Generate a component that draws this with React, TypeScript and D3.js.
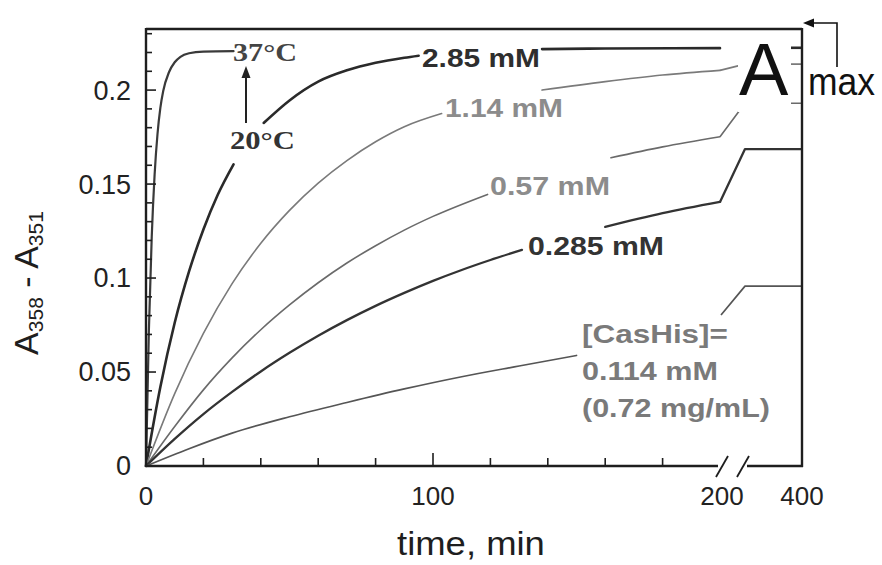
import React, { useLayoutEffect, useRef, useState } from 'react';
import * as d3 from 'd3';

const W = 882;
const H = 565;

type P = [number, number];

// [time (min), A358 - A351]
const curve37C: P[] = [
  [0, 0], [1, 0.072], [2, 0.122], [3, 0.155], [4, 0.1765], [5, 0.1905], [6, 0.1995],
  [8, 0.2095], [10, 0.2148], [12, 0.2177], [15, 0.2196], [20, 0.2205], [30.5, 0.2207],
];
const curve285mM: P[] = [
  [0, 0], [5, 0.042], [10, 0.0762], [15, 0.1035], [20, 0.1258], [25, 0.1443], [30.5, 0.1605],
  [41, 0.1825], [50, 0.1945], [60, 0.2045], [70, 0.2105], [80, 0.2145], [90, 0.2172], [95, 0.2183],
  [138, 0.2218], [160, 0.2221], [200, 0.2223], [250, 0.2225], [368, 0.2225], [400, 0.2225],
];
const curve114mM: P[] = [
  [0, 0], [10, 0.0385], [20, 0.0705], [30, 0.097], [40, 0.1185], [50, 0.136], [60, 0.1505],
  [70, 0.1625], [80, 0.1725], [90, 0.1805], [103, 0.1875], [138, 0.2], [160, 0.2045],
  [180, 0.208], [200, 0.2105], [250, 0.2138], [400, 0.2138],
];
const curve057mM: P[] = [
  [0, 0], [10, 0.021], [20, 0.0405], [30, 0.0575], [40, 0.0725], [50, 0.0857], [60, 0.0975],
  [70, 0.108], [80, 0.1172], [90, 0.1255], [100, 0.1328], [119, 0.1445], [162, 0.164],
  [180, 0.1698], [200, 0.1752], [250, 0.193], [400, 0.193],
];
const curve0285mM: P[] = [
  [0, 0], [10, 0.0144], [20, 0.0276], [30, 0.0394], [40, 0.0503], [50, 0.0602], [60, 0.0693],
  [70, 0.0776], [80, 0.0852], [90, 0.0921], [100, 0.0985], [110, 0.1043], [120, 0.1096],
  [131, 0.115], [160, 0.1272], [180, 0.1345], [200, 0.1405], [250, 0.1686], [400, 0.1686],
];
const curve0114mM: P[] = [
  [0, 0], [15, 0.0092], [30, 0.0175], [50, 0.0262], [70, 0.0338], [90, 0.041], [110, 0.0475],
  [130, 0.0532], [150, 0.0588], [202, 0.0803], [250, 0.0957], [400, 0.0957],
];

// gaps (time ranges) where lines are interrupted by labels
const gaps37C: P[] = [];
const gaps285mM: P[] = [[30.5, 41], [95, 138], [200, 368]];
const gaps114mM: P[] = [[103, 138]];
const gaps057mM: P[] = [[119, 162]];
const gaps0285mM: P[] = [[131, 160]];
const gaps0114mM: P[] = [[150, 202]];

const yMajorTicks = [0, 0.05, 0.1, 0.15, 0.2];
const yTickLabels = ['0', '0.05', '0.1', '0.15', '0.2'];
const yMinorTicks = d3.range(1, 24).map((i) => i / 100);
const xMajorTicks = [0, 100];
const xMinorTicks = [20, 40, 60, 80, 120, 140, 160, 180];
const xTickValues = [0, 100, 200, 400];
const xTickLabels = ['0', '100', '200', '400'];

const x = d3.scaleLinear().domain([0, 200, 250, 400]).range([146, 720, 745, 802]);
const y = d3.scaleLinear().domain([0, 0.2325]).range([466, 29]);

const series = [
  { pts: curve37C, gaps: gaps37C, color: '#3a3a3a', width: 2.2 },
  { pts: curve285mM, gaps: gaps285mM, color: '#2a2a2a', width: 2.6 },
  { pts: curve114mM, gaps: gaps114mM, color: '#7a7a7a', width: 1.6 },
  { pts: curve057mM, gaps: gaps057mM, color: '#6a6a6a', width: 1.6 },
  { pts: curve0285mM, gaps: gaps0285mM, color: '#333333', width: 2.3 },
  { pts: curve0114mM, gaps: gaps0114mM, color: '#555555', width: 1.7 },
];

function segments(pts: P[], gaps: P[]): P[][] {
  const segs: P[][] = [];
  let cur: P[] = [];
  let prev: P | null = null;
  for (const p of pts) {
    const inside = gaps.some(([a, b]) => p[0] > a && p[0] < b);
    if (inside) {
      if (cur.length) segs.push(cur);
      cur = [];
      prev = null;
      continue;
    }
    if (prev && gaps.some(([a, b]) => prev![0] <= a && p[0] >= b)) {
      if (cur.length) segs.push(cur);
      cur = [];
    }
    cur.push(p);
    prev = p;
  }
  if (cur.length) segs.push(cur);
  return segs.filter((s) => s.length > 1);
}

const smooth = d3.line<P>().x((d) => x(d[0])).y((d) => y(d[1])).curve(d3.curveMonotoneX);
const straight = d3.line<P>().x((d) => x(d[0])).y((d) => y(d[1]));

const SANS = 'Liberation Sans, Arial, Helvetica, sans-serif';
const SERIF = 'Liberation Serif, Times New Roman, serif';

type FitProps = {
  x: number;
  y: number;
  width: number;
  children: React.ReactNode;
  [k: string]: any;
};

function FitText({ x: tx, y: ty, width, children, ...rest }: FitProps) {
  const ref = useRef<SVGTextElement>(null);
  const [sx, setSx] = useState(1);
  useLayoutEffect(() => {
    if (ref.current) {
      const len = ref.current.getComputedTextLength();
      if (len > 0) setSx(width / len);
    }
  }, [width]);
  return (
    <text ref={ref} transform={`translate(${tx},${ty}) scale(${sx},1)`} x={0} y={0} {...rest}>
      {children}
    </text>
  );
}

export default function App() {
  const paths: React.ReactNode[] = [];
  series.forEach((s, si) => {
    const idx = s.pts.findIndex((p) => p[0] >= 200);
    const pre = idx < 0 ? s.pts : s.pts.slice(0, idx + 1);
    const post = idx < 0 ? [] : s.pts.slice(idx);
    segments(pre, s.gaps).forEach((seg, k) =>
      paths.push(
        <path key={`a${si}-${k}`} d={smooth(seg) || ''} fill="none" stroke={s.color}
          strokeWidth={s.width} strokeLinejoin="round" strokeLinecap="round" />
      )
    );
    segments(post, s.gaps).forEach((seg, k) =>
      paths.push(
        <path key={`b${si}-${k}`} d={straight(seg) || ''} fill="none" stroke={s.color}
          strokeWidth={s.width} strokeLinejoin="round" />
      )
    );
  });

  const x0 = x(0);
  const xEnd = x(400);
  const yBase = y(0);
  const yTop = y(0.2325);

  return (
    <svg width={W} height={H} style={{ display: 'block', position: 'absolute', left: 0, top: 0, background: '#fff' }}>
      <rect x={0} y={0} width={W} height={H} fill="#fff" />
      {paths}

      {/* white box behind A */}
      <rect x={738} y={30} width={53} height={82} fill="#fff" />

      {/* frame */}
      <g stroke="#1e1e1e" strokeWidth={2.4} fill="none">
        <line x1={x0} y1={yTop} x2={xEnd} y2={yTop} />
        <line x1={x0} y1={yTop - 1} x2={x0} y2={yBase + 1} />
        <line x1={xEnd} y1={yTop - 1} x2={xEnd} y2={yBase + 1} />
        <line x1={x0} y1={yBase} x2={718} y2={yBase} />
        <line x1={747} y1={yBase} x2={xEnd + 1} y2={yBase} />
      </g>
      {/* axis break marks */}
      <g stroke="#1e1e1e" strokeWidth={1.8}>
        <line x1={716} y1={477} x2={728} y2={456} />
        <line x1={737} y1={477} x2={749} y2={456} />
      </g>

      {/* ticks */}
      <g stroke="#1e1e1e" strokeWidth={1.6}>
        {yMinorTicks.map((v) => (
          <line key={`ym${v}`} x1={x0} x2={x0 + (yMajorTicks.some((m) => Math.abs(m - v) < 1e-6) ? 10 : 6)} y1={y(v)} y2={y(v)} />
        ))}
        {xMinorTicks.map((v) => (
          <line key={`xm${v}`} x1={x(v)} x2={x(v)} y1={yBase} y2={yBase - 8} />
        ))}
        {xMajorTicks.map((v) => (
          <line key={`xM${v}`} x1={x(v)} x2={x(v)} y1={yBase} y2={yBase - 13} />
        ))}
      </g>

      {/* y tick labels */}
      <g fontFamily={SANS} fontSize={27} fill="#222" textAnchor="end">
        {yMajorTicks.map((v, i) => (
          <text key={`yl${v}`} x={131} y={y(v)} dy="0.35em">{yTickLabels[i]}</text>
        ))}
      </g>
      {/* x tick labels */}
      <g fontFamily={SANS} fontSize={26} fill="#222" textAnchor="middle">
        {xTickValues.map((v, i) => (
          <text key={`xl${v}`} x={x(v) + (v === 200 ? 2 : 0)} y={505}>{xTickLabels[i]}</text>
        ))}
      </g>

      {/* axis titles */}
      <FitText x={397} y={555} width={148} fontFamily={SANS} fontSize={33} fill="#1e1e1e">time, min</FitText>
      <g transform="translate(38,283) rotate(-90)">
        <text fontFamily={SANS} fontSize={34} fill="#1e1e1e" textAnchor="middle">
          <tspan>A</tspan>
          <tspan fontSize={21} dy={5}>358</tspan>
          <tspan dy={-5}> - A</tspan>
          <tspan fontSize={21} dy={5}>351</tspan>
        </text>
      </g>

      {/* temperature labels */}
      <FitText x={233} y={61} width={64} fontFamily={SERIF} fontWeight="bold" fontSize={25} fill="#444">37°C</FitText>
      <FitText x={230} y={149} width={65} fontFamily={SERIF} fontWeight="bold" fontSize={25} fill="#333">20°C</FitText>
      <line x1={246} y1={123} x2={246} y2={76} stroke="#222" strokeWidth={2} />
      <polygon points="246,66 241.5,78 250.5,78" fill="#222" />

      {/* concentration labels */}
      <g fontFamily={SANS} fontWeight="bold" fontSize={25}>
        <FitText x={422} y={67} width={118} fill="#2e2e2e">2.85 mM</FitText>
        <FitText x={445} y={117} width={118} fill="#8c8c8c">1.14 mM</FitText>
        <FitText x={490} y={195} width={120} fill="#8c8c8c">0.57 mM</FitText>
        <FitText x={528} y={255} width={136} fill="#333">0.285 mM</FitText>
        <FitText x={582} y={343} width={146} fill="#7a7a7a">[CasHis]=</FitText>
        <FitText x={582} y={380} width={136} fill="#7a7a7a">0.114 mM</FitText>
        <FitText x={582} y={417} width={188} fill="#7a7a7a">(0.72 mg/mL)</FitText>
      </g>

      {/* A max */}
      <text x={739} y={95} fontFamily={SANS} fontSize={74} fill="#111">A</text>
      <FitText x={808} y={95} width={67} fontFamily={SANS} fontSize={38} fill="#111">max</FitText>
      <path d="M837,67 V23 H812" fill="none" stroke="#111" strokeWidth={1.6} />
      <polygon points="803,23 814,18.5 814,27.5" fill="#111" />
    </svg>
  );
}
